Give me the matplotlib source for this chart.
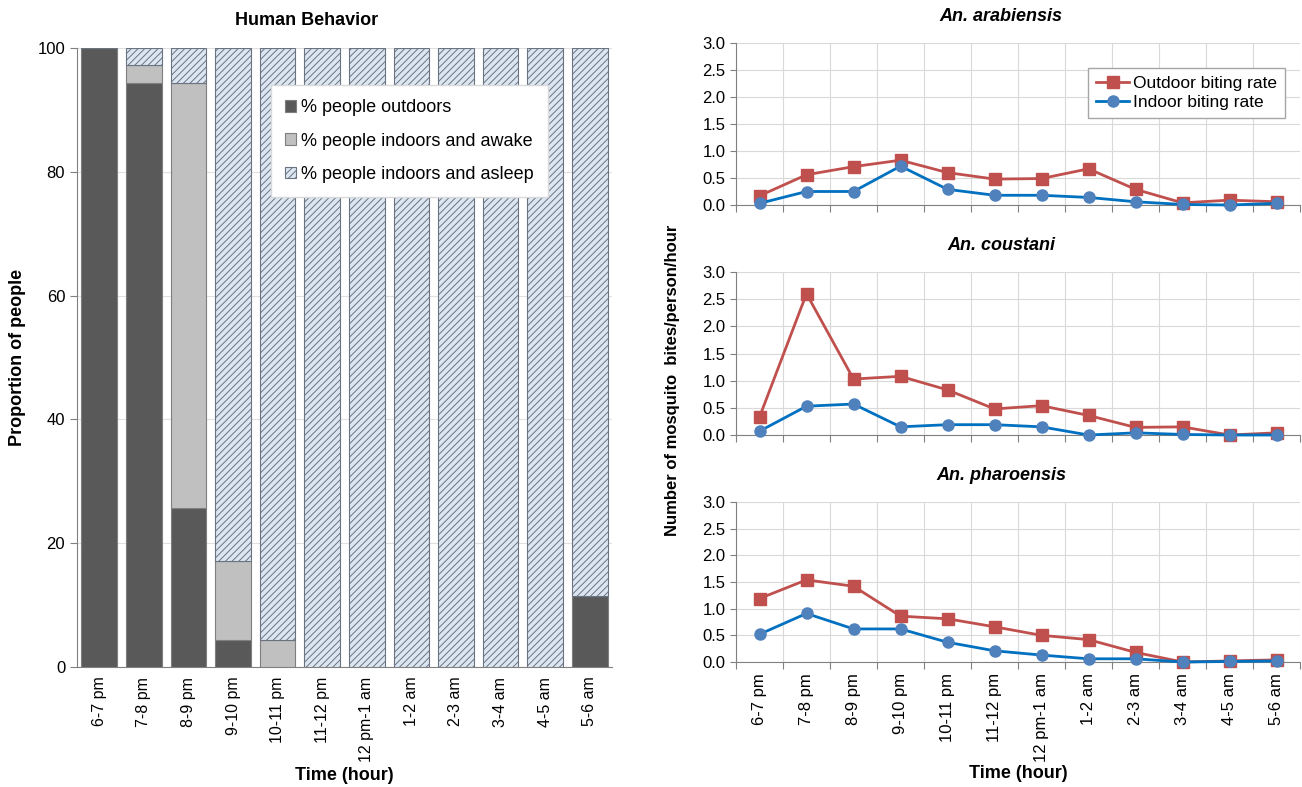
import numpy as np
import matplotlib
matplotlib.use('Agg')
import matplotlib.pyplot as plt

plt.rcParams['font.family'] = ['Liberation Sans', 'DejaVu Sans']
plt.rcParams['hatch.linewidth'] = 0.7

hours = ['6-7 pm', '7-8 pm', '8-9 pm', '9-10 pm', '10-11 pm', '11-12 pm',
         '12 pm-1 am', '1-2 am', '2-3 am', '3-4 am', '4-5 am', '5-6 am']

# human behaviour, % of people per hour
outdoors = [100, 94.4, 25.7, 4.3, 0, 0, 0, 0, 0, 0, 0, 11.5]
indoors_awake = [0, 2.8, 68.6, 12.9, 4.3, 0, 0, 0, 0, 0, 0, 0]
indoors_asleep = [0, 2.8, 5.7, 82.8, 95.7, 100, 100, 100, 100, 100, 100, 88.5]

# biting rates (bites/person/hour)
species = ['An. arabiensis', 'An. coustani', 'An. pharoensis']
outdoor_rate = [
    [0.17, 0.56, 0.71, 0.83, 0.60, 0.48, 0.49, 0.67, 0.29, 0.04, 0.09, 0.06],
    [0.33, 2.60, 1.03, 1.08, 0.83, 0.48, 0.54, 0.36, 0.14, 0.15, 0.00, 0.04],
    [1.19, 1.54, 1.42, 0.86, 0.81, 0.66, 0.50, 0.42, 0.18, 0.00, 0.02, 0.04],
]
indoor_rate = [
    [0.03, 0.25, 0.25, 0.72, 0.29, 0.18, 0.18, 0.14, 0.06, 0.01, 0.00, 0.03],
    [0.07, 0.53, 0.57, 0.15, 0.19, 0.19, 0.15, 0.00, 0.04, 0.01, 0.00, 0.00],
    [0.52, 0.91, 0.62, 0.62, 0.37, 0.21, 0.13, 0.06, 0.06, 0.00, 0.01, 0.02],
]

W, H = 1302, 787
fig = plt.figure(figsize=(W / 100, H / 100), dpi=100)


def px_axes(x0, y0, x1, y1):
    return fig.add_axes([x0 / W, 1 - y1 / H, (x1 - x0) / W, (y1 - y0) / H])


# ---- left: stacked bars
ax = px_axes(77, 48, 612, 667)
x = np.arange(len(hours))
bw = 0.8
ax.bar(x, outdoors, bw, color='#595959', edgecolor='#7f7f7f', lw=0.8,
       label='% people outdoors', zorder=3)
ax.bar(x, indoors_awake, bw, bottom=outdoors, color='#c0c0c0',
       edgecolor='#7f7f7f', lw=0.8, label='% people indoors and awake', zorder=3)
bottom2 = np.array(outdoors) + np.array(indoors_awake)
ax.bar(x, indoors_asleep, bw, bottom=bottom2, color='#dce6f2',
       edgecolor='#6b7280', lw=0.8, hatch='/////',
       label='% people indoors and asleep', zorder=3)
ax.set_xlim(-0.5, 11.5)
ax.set_ylim(0, 100)
ax.set_yticks([0, 20, 40, 60, 80, 100])
ax.yaxis.grid(True, color='#e0e0e0', lw=0.8, zorder=0)
ax.set_xticks(x)
ax.set_xticklabels(hours, rotation=90, fontsize=11.5)
ax.tick_params(axis='x', length=0, pad=7)
ax.tick_params(axis='y', labelsize=12, direction='out', length=5, color='#808080')
for s in ['top', 'right']:
    ax.spines[s].set_visible(False)
for s in ['left', 'bottom']:
    ax.spines[s].set_color('#808080')
ax.set_title('Human Behavior', fontsize=13, fontweight='bold', pad=16.5, x=0.43)
ax.set_ylabel('Proportion of people', fontsize=13, fontweight='bold', labelpad=8)
leg = ax.legend(loc='upper left', bbox_to_anchor=(0.345, 0.955), fontsize=13,
                fancybox=False, edgecolor='#d9d9d9', framealpha=1,
                handlelength=0.6, handleheight=0.6, handletextpad=0.3,
                labelspacing=0.9, borderpad=0.8)
fig.text((77 + 612) / 2 / W, 1 - 776 / H, 'Time (hour)', ha='center',
         va='center', fontsize=13, fontweight='bold')

# ---- right: biting rates
rows = [(43, 205), (272, 435), (502, 662)]
for i, (top, bot) in enumerate(rows):
    a = px_axes(736, top, 1300, bot)
    a.plot(x, outdoor_rate[i], color='#c0504d', lw=2, marker='s', ms=8,
           label='Outdoor biting rate', zorder=3, clip_on=False)
    a.plot(x, indoor_rate[i], color='#0070c0', lw=2, marker='o', ms=8,
           mfc='#4f81bd', mec='#4f81bd', label='Indoor biting rate', zorder=3,
           clip_on=False)
    a.set_xlim(-0.5, 11.5)
    a.set_ylim(0, 3.0)
    a.set_yticks(np.arange(0, 3.01, 0.5))
    a.set_yticklabels(['%.1f' % v for v in np.arange(0, 3.01, 0.5)])
    a.set_xticks(np.arange(-0.5, 11.6, 1), minor=False)
    a.grid(True, color='#d9d9d9', lw=0.8, zorder=0)
    a.tick_params(axis='x', direction='out', length=5, color='#808080',
                  labelbottom=False)
    a.tick_params(axis='y', labelsize=12, direction='out', length=4,
                  color='#808080')
    for s in ['top', 'right']:
        a.spines[s].set_visible(False)
    for s in ['left', 'bottom']:
        a.spines[s].set_color('#808080')
    a.set_title(species[i], fontsize=13, fontweight='bold', style='italic',
                pad=16, x=0.47)
    if i == 0:
        a.legend(loc='upper right', bbox_to_anchor=(0.988, 0.9), fontsize=12.5,
                 fancybox=False, edgecolor='#a6a6a6', framealpha=1,
                 handlelength=1.9, handletextpad=0.2, borderpad=0.45,
                 labelspacing=0.25)
    if i == 2:
        a.set_xticks(x, minor=True)
        a.set_xticklabels(hours, minor=True, rotation=90, fontsize=12)
        a.tick_params(axis='x', which='minor', length=0, pad=8,
                      labelbottom=True)

fig.text(1018 / W, 1 - 774 / H, 'Time (hour)', ha='center', va='center',
         fontsize=13, fontweight='bold')
fig.text(673 / W, 1 - 380 / H, 'Number of mosquito  bites/person/hour',
         rotation=90, ha='center', va='center', fontsize=12, fontweight='bold')

fig.savefig('out.png', dpi=100)
